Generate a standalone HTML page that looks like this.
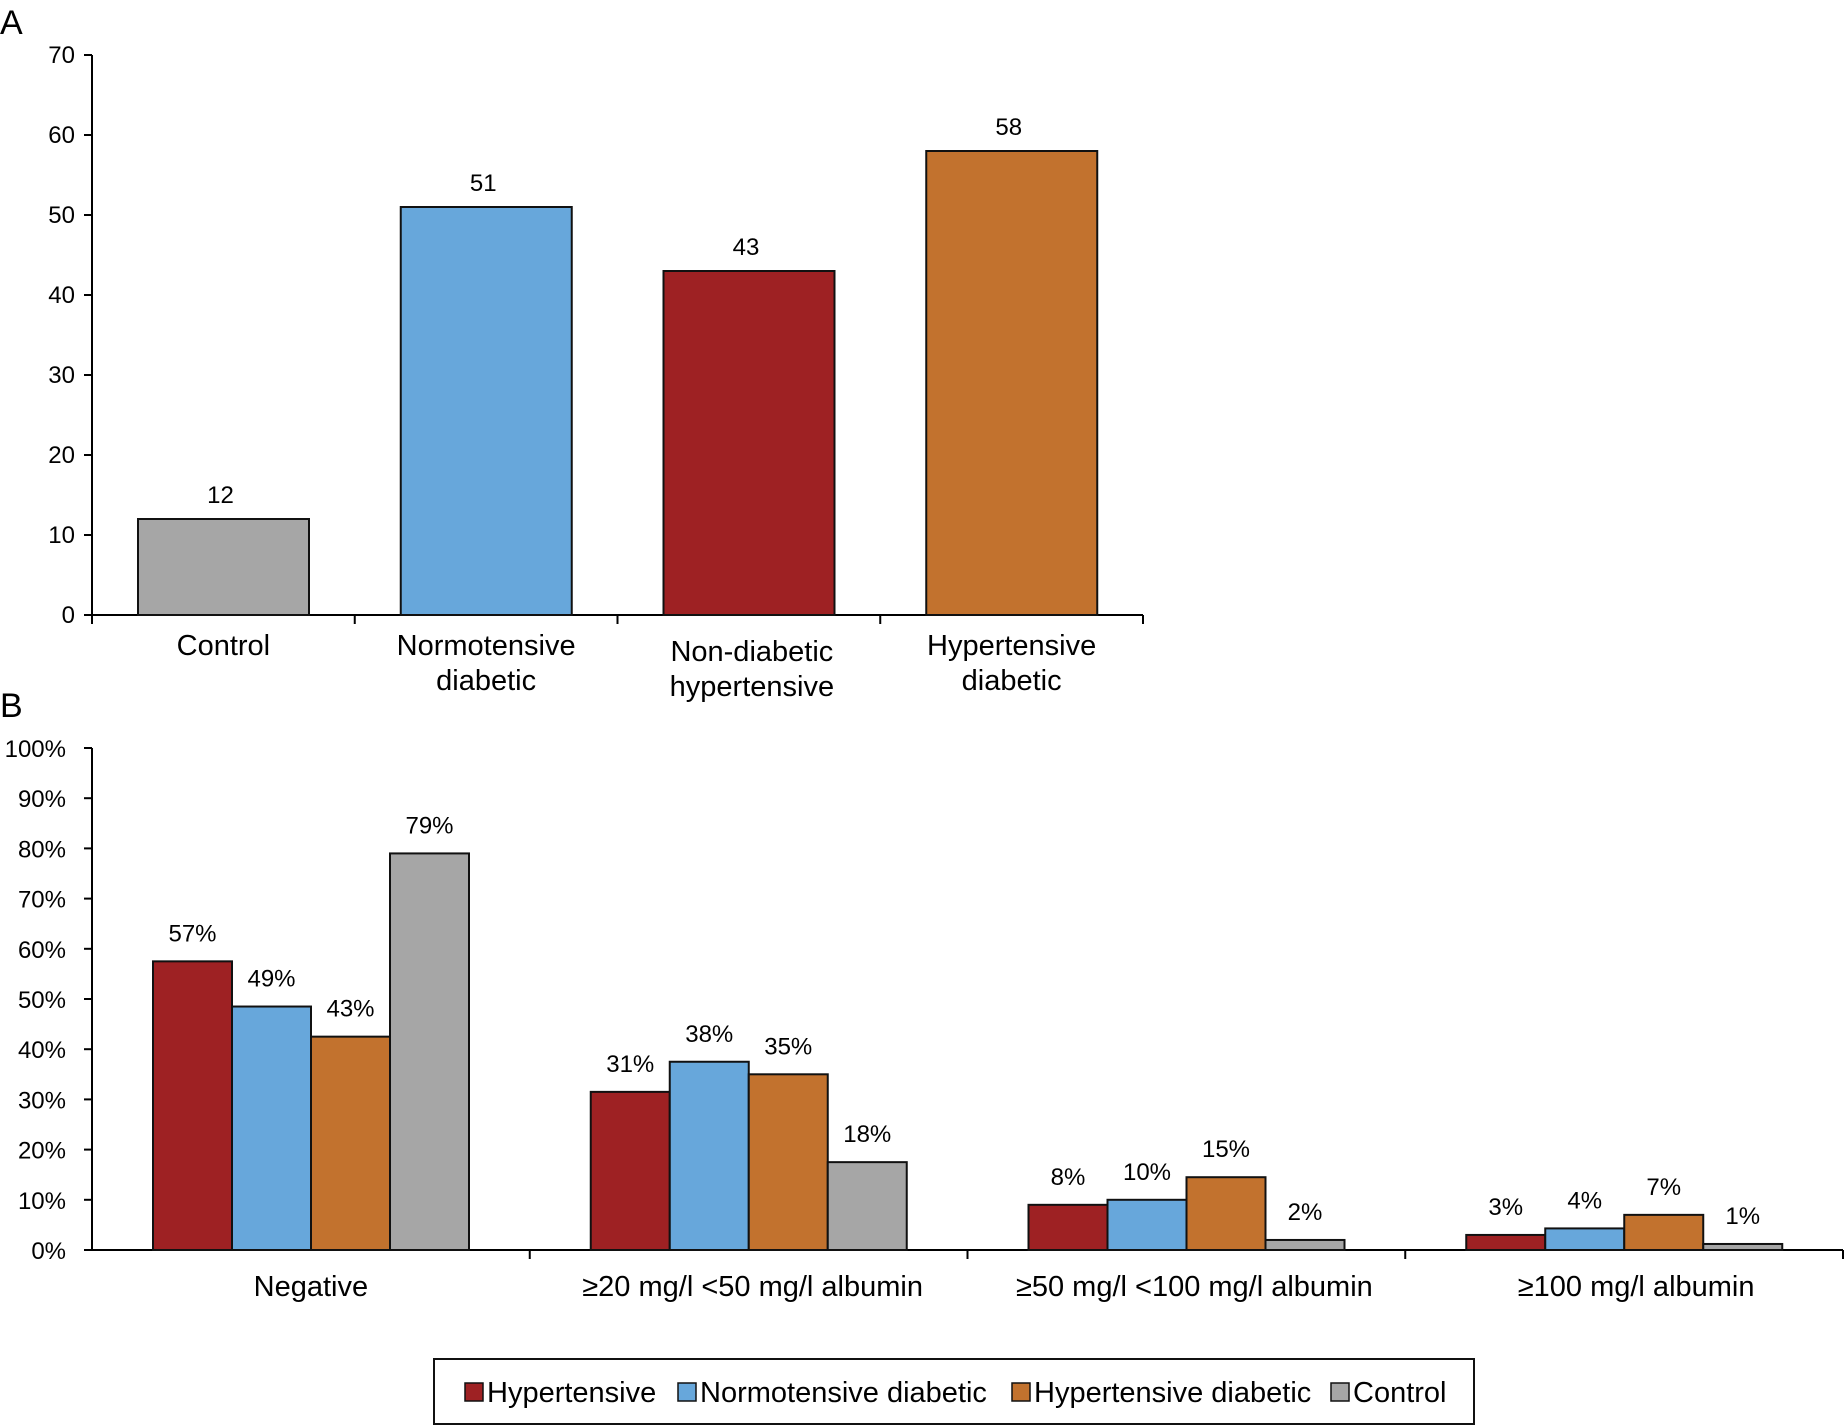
<!DOCTYPE html>
<html><head><meta charset="utf-8"><style>
html,body{margin:0;padding:0;background:#fff}
svg{display:block;font-family:"Liberation Sans",Arial,sans-serif}
</style></head><body>
<svg id="chart" width="1846" height="1425" viewBox="0 0 1846 1425" xmlns="http://www.w3.org/2000/svg">
<text x="0" y="34" font-size="34">A</text>
<text x="0" y="717" font-size="34">B</text>
<g id="gA"></g>
<g id="gB"></g>
</svg>
<script>
// Chart A data
const catsA = [["Control"],["Normotensive","diabetic"],["Non-diabetic","hypertensive"],["Hypertensive","diabetic"]];
const valsA = [12,51,43,58];
const labelsA = ["12","51","43","58"];
const colorsA = ["#a6a6a6","#67a7db","#9e2123","#c2722e"];
const ticksA = [0,10,20,30,40,50,60,70];
// Chart B data
const catsB = ["Negative","\u226520 mg/l <50 mg/l albumin","\u226550 mg/l <100 mg/l albumin","\u2265100 mg/l albumin"];
const seriesNames = ["Hypertensive","Normotensive diabetic","Hypertensive diabetic","Control"];
const hypVals = [57.5,31.5,9,3];
const normVals = [48.5,37.5,10,4.3];
const hypDiabVals = [42.5,35,14.5,7];
const controlVals = [79,17.5,2,1.2];
const hypLabels = ["57%","31%","8%","3%"];
const normLabels = ["49%","38%","10%","4%"];
const hypDiabLabels = ["43%","35%","15%","7%"];
const controlLabels = ["79%","18%","2%","1%"];
const ticksB = [0,10,20,30,40,50,60,70,80,90,100];

const NS="http://www.w3.org/2000/svg";
function mk(parent,tag,attrs,txt){const e=document.createElementNS(NS,tag);for(const k in attrs)e.setAttribute(k,attrs[k]);if(txt!==undefined)e.textContent=txt;parent.appendChild(e);return e;}

// ---- Chart A
const gA=document.getElementById('gA');
const axA={x0:92,x1:1143,y0:615,y1:55,max:70};
const yA=v=>axA.y0-(v/axA.max)*(axA.y0-axA.y1);
const bandA=(axA.x1-axA.x0)/catsA.length;
let l=mk(gA,'line',{x1:axA.x0,y1:axA.y1,x2:axA.x0,y2:axA.y0,stroke:'#000','stroke-width':2});


l=mk(gA,'line',{x1:axA.x0-8,y1:axA.y0,x2:axA.x1,y2:axA.y0,stroke:'#000','stroke-width':2});


ticksA.forEach(t=>{
  mk(gA,'line',{x1:axA.x0-8,y1:yA(t),x2:axA.x0,y2:yA(t),stroke:'#000','stroke-width':2});
  const tx=mk(gA,'text',{x:75,y:yA(t)+8,'font-size':24,'text-anchor':'end'},String(t));
  
  
});
for(let i=0;i<=catsA.length;i++){mk(gA,'line',{x1:axA.x0+i*bandA,y1:axA.y0,x2:axA.x0+i*bandA,y2:axA.y0+9,stroke:'#000','stroke-width':2});}
catsA.forEach((c,i)=>{
  const bx=axA.x0+i*bandA+46, bw=171;
  const r=mk(gA,'rect',{x:bx,y:yA(valsA[i]),width:bw,height:axA.y0-yA(valsA[i]),fill:colorsA[i],stroke:'#111','stroke-width':2});
  
  
  const vl=mk(gA,'text',{x:bx+bw/2-3,y:yA(valsA[i])-16,'font-size':24,'text-anchor':'middle'},labelsA[i]);
  
  
  const cx=axA.x0+i*bandA+bandA/2+(i==2?3:0);
  const base=i==2?661:655;
  c.forEach((line,j)=>{
    const ct=mk(gA,'text',{x:cx,y:base+j*35,'font-size':29,'text-anchor':'middle'},line);
    
    
  });
});

// ---- Chart B
const gB=document.getElementById('gB');
const axB={x0:92,x1:1843,y0:1250,y1:748,max:100};
const yB=v=>axB.y0-(v/axB.max)*(axB.y0-axB.y1);
const bandB=(axB.x1-axB.x0)/catsB.length;
const seriesVals=[hypVals,normVals,hypDiabVals,controlVals];
const seriesLabels=[hypLabels,normLabels,hypDiabLabels,controlLabels];
const colorsB=["#9e2123","#67a7db","#c2722e","#a6a6a6"];
l=mk(gB,'line',{x1:axB.x0,y1:axB.y1,x2:axB.x0,y2:axB.y0,stroke:'#000','stroke-width':2});


l=mk(gB,'line',{x1:axB.x0-8,y1:axB.y0,x2:axB.x1,y2:axB.y0,stroke:'#000','stroke-width':2});


ticksB.forEach(t=>{
  mk(gB,'line',{x1:axB.x0-8,y1:yB(t),x2:axB.x0,y2:yB(t),stroke:'#000','stroke-width':2});
  const tx=mk(gB,'text',{x:66,y:yB(t)+9,'font-size':24,'text-anchor':'end'},t+'%');
  
  
});
for(let i=1;i<=catsB.length;i++){mk(gB,'line',{x1:axB.x0+i*bandB,y1:axB.y0,x2:axB.x0+i*bandB,y2:axB.y0+9,stroke:'#000','stroke-width':2});}
catsB.forEach((c,i)=>{
  const gx=axB.x0+i*bandB+61, bw=79;
  seriesVals.forEach((sv,s)=>{
    const bx=gx+s*bw;
    const r=mk(gB,'rect',{x:bx,y:yB(sv[i]),width:bw,height:axB.y0-yB(sv[i]),fill:colorsB[s],stroke:'#111','stroke-width':2});
    
    
    const vl=mk(gB,'text',{x:bx+bw/2,y:yB(sv[i])-20,'font-size':24,'text-anchor':'middle'},seriesLabels[s][i]);
    
    
  });
  const ct=mk(gB,'text',{x:axB.x0+i*bandB+bandB/2+i*4,y:1296,'font-size':29,'text-anchor':'middle'},c);
  
  
});
// legend
const lg=mk(gB,'rect',{x:434,y:1359,width:1040,height:65,fill:'#fff',stroke:'#111','stroke-width':2});


const legX=[465,678,1012,1331];
seriesNames.forEach((n,s)=>{
  mk(gB,'rect',{x:legX[s],y:1383,width:18,height:18,fill:colorsB[s],stroke:'#111','stroke-width':1.5});
  const t=mk(gB,'text',{x:legX[s]+22,y:1402,'font-size':29},n);
  
  
});
</script>
</body></html>
